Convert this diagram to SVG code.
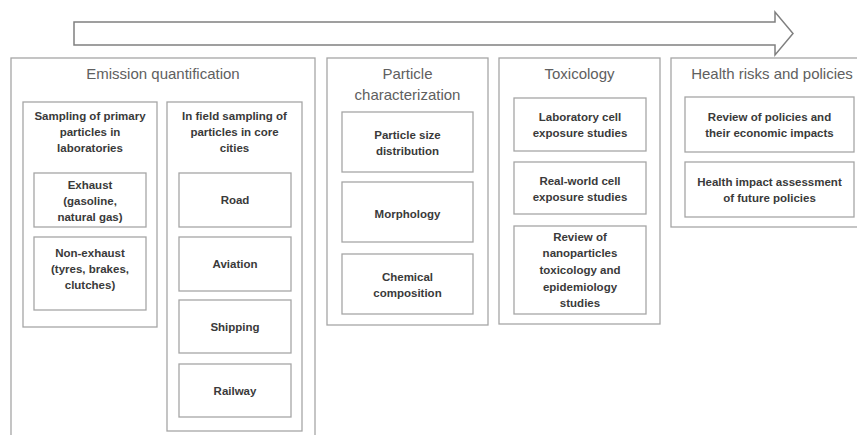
<svg xmlns="http://www.w3.org/2000/svg" width="857" height="435" viewBox="0 0 857 435">
<style>
.box{fill:#fff;stroke:#a6a6a6;stroke-width:1.3}
.ttl{font-family:"Liberation Sans",Arial,sans-serif;font-size:15px;fill:#606060;text-anchor:middle}
.lbl{font-family:"Liberation Sans",Arial,sans-serif;font-size:11.5px;font-weight:bold;fill:#3a3a3a;text-anchor:middle}
</style>
<rect width="857" height="435" fill="#fff"/>
<g id="connectors">
<path d="M74,22 L775,22 L775,12 L793,33.5 L775,55 L775,45 L74,45 Z" fill="#fff" stroke="#808080" stroke-width="1.5"/>
</g>
<g id="emission">
<rect class="box" x="11" y="58" width="304" height="380"/>
<text class="ttl" x="163" y="79">Emission quantification</text>
</g>
<g id="lab-sampling">
<rect class="box" x="23" y="102" width="134" height="225"/>
<text class="lbl" x="90" y="120">Sampling of primary</text>
<text class="lbl" x="90" y="136">particles in</text>
<text class="lbl" x="90" y="152">laboratories</text>
</g>
<g id="exhaust">
<rect class="box" x="34" y="173" width="112" height="54"/>
<text class="lbl" x="90" y="189">Exhaust</text>
<text class="lbl" x="90" y="205">(gasoline,</text>
<text class="lbl" x="90" y="221">natural gas)</text>
</g>
<g id="non-exhaust">
<rect class="box" x="34" y="237" width="112" height="73"/>
<text class="lbl" x="90" y="257">Non-exhaust</text>
<text class="lbl" x="90" y="273">(tyres, brakes,</text>
<text class="lbl" x="90" y="289">clutches)</text>
</g>
<g id="field-sampling">
<rect class="box" x="167" y="102" width="135" height="329"/>
<text class="lbl" x="234.5" y="120">In field sampling of</text>
<text class="lbl" x="234.5" y="136">particles in core</text>
<text class="lbl" x="234.5" y="152">cities</text>
</g>
<g id="road">
<rect class="box" x="179" y="173" width="112" height="54"/>
<text class="lbl" x="235" y="204">Road</text>
</g>
<g id="aviation">
<rect class="box" x="179" y="237" width="112" height="54"/>
<text class="lbl" x="235" y="268">Aviation</text>
</g>
<g id="shipping">
<rect class="box" x="179" y="300" width="112" height="53"/>
<text class="lbl" x="235" y="331">Shipping</text>
</g>
<g id="railway">
<rect class="box" x="179" y="364" width="112" height="53"/>
<text class="lbl" x="235" y="395">Railway</text>
</g>
<g id="particle-char">
<rect class="box" x="327" y="58" width="161" height="267"/>
<text class="ttl" x="407.5" y="79">Particle</text>
<text class="ttl" x="407.5" y="100">characterization</text>
</g>
<g id="psd">
<rect class="box" x="342" y="112" width="131" height="60"/>
<text class="lbl" x="407.5" y="139">Particle size</text>
<text class="lbl" x="407.5" y="155">distribution</text>
</g>
<g id="morphology">
<rect class="box" x="342" y="182" width="131" height="60"/>
<text class="lbl" x="407.5" y="218">Morphology</text>
</g>
<g id="chemical">
<rect class="box" x="342" y="254" width="131" height="60"/>
<text class="lbl" x="407.5" y="281">Chemical</text>
<text class="lbl" x="407.5" y="297">composition</text>
</g>
<g id="toxicology">
<rect class="box" x="499" y="58" width="161" height="266"/>
<text class="ttl" x="579.5" y="79">Toxicology</text>
</g>
<g id="lab-cell">
<rect class="box" x="514" y="98" width="132" height="53"/>
<text class="lbl" x="580" y="121">Laboratory cell</text>
<text class="lbl" x="580" y="137">exposure studies</text>
</g>
<g id="real-cell">
<rect class="box" x="514" y="162" width="132" height="52"/>
<text class="lbl" x="580" y="185">Real-world cell</text>
<text class="lbl" x="580" y="201">exposure studies</text>
</g>
<g id="review-nano">
<rect class="box" x="514" y="226" width="132" height="88"/>
<text class="lbl" x="580" y="241">Review of</text>
<text class="lbl" x="580" y="257">nanoparticles</text>
<text class="lbl" x="580" y="274">toxicology and</text>
<text class="lbl" x="580" y="291">epidemiology</text>
<text class="lbl" x="580" y="307">studies</text>
</g>
<g id="health">
<rect class="box" x="671" y="58" width="190" height="169"/>
<text class="ttl" x="772" y="79">Health risks and policies</text>
</g>
<g id="review-policies">
<rect class="box" x="685" y="97" width="169" height="55"/>
<text class="lbl" x="769.5" y="121">Review of policies and</text>
<text class="lbl" x="769.5" y="137">their economic impacts</text>
</g>
<g id="hia">
<rect class="box" x="685" y="162" width="169" height="55"/>
<text class="lbl" x="769.5" y="186">Health impact assessment</text>
<text class="lbl" x="769.5" y="202">of future policies</text>
</g>
</svg>
